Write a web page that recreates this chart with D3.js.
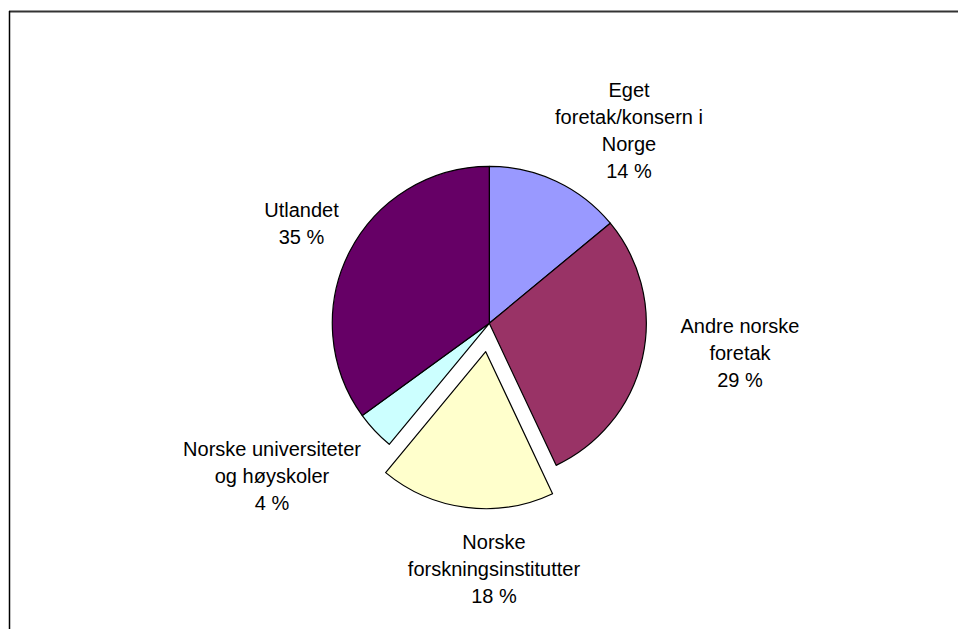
<!DOCTYPE html>
<html>
<head>
<meta charset="utf-8">
<script src="https://cdn.jsdelivr.net/npm/d3@7"></script>
<style>
  html, body { margin: 0; padding: 0; background: #fff; }
  text { font-family: "Liberation Sans", Arial, sans-serif; fill: #000; }
</style>
</head>
<body>
<div id="chart"></div>
<script>
// data
var categories = ["Eget foretak/konsern i Norge", "Andre norske foretak", "Norske forskningsinstitutter", "Norske universiteter og høyskoler", "Utlandet"];
var values = [14, 29, 18, 4, 35];
var labelLines = [
  ["Eget", "foretak/konsern i", "Norge"],
  ["Andre norske", "foretak"],
  ["Norske", "forskningsinstitutter"],
  ["Norske universiteter", "og høyskoler"],
  ["Utlandet"]
];
var colors = ["#9999FF", "#993366", "#FFFFCC", "#CCFFFF", "#660066"];
var exploded = [false, false, true, false, false];

// layout
var width = 958,
  height = 629,
  cx = 489.3,
  cy = 323.3,
  radius = 157,
  explodeDist = 28.6,
  lineHeight = 26.8;

// label anchors (x centre, first baseline)
var labelPos = [[629, 97.3], [740, 333.3], [494, 549.3], [272, 456], [301.5, 217.3]];

var svg = d3
  .select("#chart")
  .append("svg")
  .attr("width", width)
  .attr("height", height);

// frame
svg.append("line")
  .attr("x1", 9).attr("x2", width)
  .attr("y1", 11.5).attr("y2", 11.5)
  .attr("stroke", "#333").attr("stroke-width", 2);
svg.append("line")
  .attr("x1", 9.5).attr("x2", 9.5)
  .attr("y1", 11).attr("y2", height)
  .attr("stroke", "#000").attr("stroke-width", 1.5);

var pie = d3.pie().sort(null).value(function(d) { return d; });
var arc = d3.arc().innerRadius(0).outerRadius(radius);

var arcs = pie(values);

var gPie = svg.append("g").attr("transform", `translate(${cx}, ${cy})`);

gPie.selectAll("path")
  .data(arcs)
  .enter()
  .append("path")
  .attr("d", arc)
  .attr("fill", function(d, i) { return colors[i]; })
  .attr("stroke", "#000")
  .attr("stroke-width", 1.2)
  .attr("stroke-linejoin", "round")
  .attr("transform", function(d, i) {
    if (!exploded[i]) return null;
    var a = (d.startAngle + d.endAngle) / 2;
    return `translate(${explodeDist * Math.sin(a)}, ${-explodeDist * Math.cos(a)})`;
  });

// labels
var gLabels = svg.append("g");
arcs.forEach(function(d, i) {
  var lines = labelLines[i].concat([values[i] + " %"]);
  var t = gLabels.append("text")
    .attr("text-anchor", "middle")
    .style("font-size", "20px")
    .attr("x", labelPos[i][0])
    .attr("y", labelPos[i][1]);
  lines.forEach(function(l, j) {
    t.append("tspan")
      .attr("x", labelPos[i][0])
      .attr("y", labelPos[i][1] + j * lineHeight)
      .text(l);
  });
});
</script>
</body>
</html>
